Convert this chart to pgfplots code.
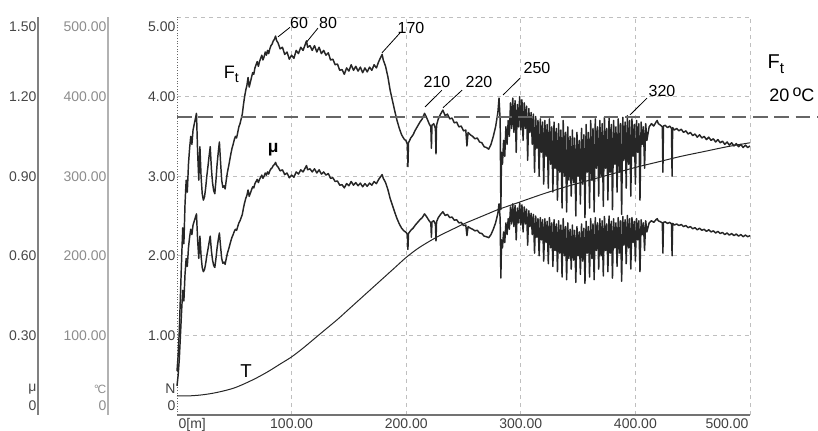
\documentclass[border=0pt]{standalone}
\usepackage{fontspec}
\setmainfont{Liberation Sans}
\usepackage{pgfplots}
\pgfplotsset{compat=1.18}
\usepackage{pgfplotstable}

\pgfplotstableread{
x Ft mu
0 0.55 0.110
1 0.75 0.150
2 1.05 0.210
3 1.50 0.300
4 1.95 0.390
5 2.35 0.470
6 2.15 0.430
7 2.65 0.530
8 2.95 0.590
9 2.80 0.560
10 3.15 0.630
11 3.35 0.670
12 3.50 0.700
13 3.40 0.680
14 3.58 0.716
15 3.65 0.730
16 3.72 0.744
17 3.79 0.758
18 3.30 0.660
19 2.95 0.590
20 3.37 0.674
21 3.00 0.600
22 2.78 0.556
23 2.70 0.540
24 2.74 0.548
25 2.85 0.570
26 3.00 0.600
27 3.12 0.624
28 3.25 0.650
29 3.37 0.674
30 3.10 0.620
31 2.92 0.584
32 2.82 0.564
33 2.78 0.556
34 2.95 0.590
35 3.15 0.630
36 3.30 0.660
37 3.43 0.686
38 3.18 0.636
39 2.95 0.590
40 2.86 0.572
41 2.88 0.576
42 2.84 0.568
43 2.95 0.590
44 3.05 0.610
45 3.12 0.624
46 3.20 0.640
47 3.28 0.656
48 3.35 0.670
49 3.40 0.680
50 3.46 0.692
51 3.50 0.700
52 3.48 0.696
53 3.55 0.710
54 3.62 0.724
55 3.66 0.732
56 3.72 0.744
57 3.78 0.756
58 3.90 0.780
59 4.00 0.800
60 4.08 0.816
61 4.14 0.828
62 4.24 0.848
63 4.12 0.824
64 4.18 0.836
65 4.24 0.848
66 4.30 0.860
67 4.28 0.856
68 4.36 0.872
69 4.40 0.880
70 4.44 0.888
71 4.38 0.876
72 4.44 0.888
73 4.48 0.896
74 4.52 0.904
75 4.46 0.892
76 4.50 0.900
77 4.56 0.912
78 4.52 0.904
79 4.58 0.916
80 4.54 0.908
81 4.60 0.920
82 4.64 0.928
83 4.66 0.932
84 4.70 0.940
85 4.72 0.944
86 4.76 0.952
87 4.70 0.940
88 4.68 0.936
89 4.64 0.928
90 4.60 0.920
92 4.62 0.924
94 4.53 0.906
96 4.56 0.912
98 4.47 0.894
100 4.52 0.904
102 4.48 0.896
104 4.58 0.916
106 4.54 0.908
108 4.62 0.924
110 4.58 0.916
112 4.66 0.932
113 4.70 0.940
114 4.62 0.924
116 4.64 0.928
118 4.58 0.916
120 4.64 0.928
122 4.56 0.912
124 4.62 0.924
126 4.54 0.908
128 4.58 0.916
130 4.52 0.904
132 4.55 0.910
134 4.46 0.892
136 4.47 0.894
138 4.40 0.880
140 4.41 0.882
142 4.33 0.866
144 4.34 0.868
146 4.28 0.856
148 4.36 0.872
150 4.32 0.864
152 4.40 0.880
154 4.33 0.866
156 4.38 0.876
158 4.32 0.864
160 4.37 0.874
162 4.30 0.860
164 4.36 0.872
166 4.31 0.862
168 4.37 0.874
170 4.33 0.866
172 4.40 0.880
174 4.36 0.872
176 4.44 0.888
178 4.50 0.900
179 4.53 0.906
180 4.46 0.892
182 4.38 0.876
184 4.25 0.850
186 4.08 0.816
188 3.95 0.790
190 3.82 0.764
192 3.70 0.740
194 3.60 0.720
196 3.52 0.704
198 3.47 0.694
200 3.44 0.688
201 3.40 0.680
201.5 3.12 0.624
202 3.42 0.684
204 3.48 0.696
206 3.52 0.704
208 3.58 0.716
210 3.63 0.726
212 3.68 0.736
214 3.72 0.744
216 3.79 0.758
218 3.73 0.746
220 3.66 0.732
221.5 3.62 0.724
222 3.35 0.670
222.5 3.64 0.728
224 3.66 0.732
225.5 3.60 0.720
226 3.28 0.656
226.5 3.64 0.728
228 3.72 0.744
230 3.78 0.756
232 3.83 0.766
234 3.76 0.752
236 3.78 0.756
238 3.72 0.744
240 3.73 0.746
242 3.67 0.734
244 3.68 0.736
246 3.62 0.724
248 3.63 0.726
250 3.57 0.714
252 3.58 0.716
253 3.38 0.676
254 3.55 0.710
256 3.52 0.704
258 3.50 0.700
260 3.47 0.694
262 3.48 0.696
264 3.43 0.686
266 3.42 0.684
268 3.37 0.674
270 3.36 0.672
272 3.34 0.668
274 3.40 0.680
276 3.50 0.700
278 3.62 0.724
280 3.80 0.760
281 3.98 0.796
282 3.70 0.740
282.6 2.58 0.516
283.2 3.30 0.660
284 3.15 0.630
285 3.45 0.690
286 3.25 0.650
287 3.62 0.724
288 3.40 0.680
289 3.70 0.740
290 3.50 0.700
291 3.92 0.784
292 3.60 0.720
293 3.98 0.796
294 3.55 0.710
295 3.95 0.790
296 3.30 0.660
297 3.90 0.780
298 3.62 0.724
299 4.00 0.800
300 3.58 0.716
301 3.96 0.792
302 3.45 0.690
303 3.92 0.784
304 3.60 0.720
305 3.88 0.776
306 3.20 0.640
307 3.85 0.770
308 3.55 0.710
309 3.80 0.760
310 3.40 0.680
311 3.78 0.756
312 3.05 0.610
313 3.75 0.750
314 3.35 0.670
315 3.70 0.740
316 3.00 0.600
317 3.72 0.744
318 3.30 0.660
319 3.68 0.736
320 2.90 0.580
321 3.70 0.740
322 3.25 0.650
323 3.65 0.730
324 2.85 0.570
325 3.72 0.744
326 3.15 0.630
327 3.62 0.724
328 2.80 0.560
329 3.68 0.736
330 3.10 0.620
331 3.60 0.720
332 2.70 0.540
333 3.66 0.732
334 3.05 0.610
335 3.58 0.716
336 2.60 0.520
337 3.70 0.740
338 3.00 0.600
339 3.55 0.710
340 2.55 0.510
341 3.62 0.724
342 2.95 0.590
343 3.50 0.700
344 2.75 0.550
345 3.58 0.716
346 2.92 0.584
347 3.48 0.696
348 2.50 0.500
349 3.55 0.710
350 3.00 0.600
351 3.45 0.690
352 2.65 0.530
353 3.60 0.720
354 2.90 0.580
355 3.52 0.704
356 2.48 0.496
357 3.65 0.730
358 3.05 0.610
359 3.55 0.710
360 2.60 0.520
361 3.70 0.740
362 2.95 0.590
363 3.60 0.720
364 2.55 0.510
365 3.72 0.744
366 3.10 0.620
367 3.62 0.724
368 2.75 0.550
369 3.70 0.740
370 3.00 0.600
371 3.66 0.732
372 2.62 0.524
373 3.74 0.748
374 3.10 0.620
375 3.60 0.720
376 2.70 0.540
377 3.75 0.750
378 3.05 0.610
379 3.65 0.730
380 2.58 0.516
381 3.70 0.740
382 3.15 0.630
383 3.62 0.724
384 2.80 0.560
385 3.72 0.744
386 3.05 0.610
387 3.66 0.732
388 2.52 0.504
389 3.74 0.748
390 3.20 0.640
391 3.68 0.736
392 2.85 0.570
393 3.76 0.752
394 3.15 0.630
395 3.70 0.740
396 2.75 0.550
397 3.72 0.744
398 3.25 0.650
399 3.65 0.730
400 2.90 0.580
401 3.70 0.740
402 3.30 0.660
403 3.66 0.732
404 2.70 0.540
405 3.68 0.736
406 3.40 0.680
407 3.62 0.724
408 3.10 0.620
409 3.66 0.732
410 3.45 0.690
412 3.62 0.724
414 3.66 0.732
416 3.63 0.726
418 3.68 0.736
419 3.70 0.740
420 3.66 0.732
422 3.64 0.728
423.5 3.62 0.724
424 3.05 0.610
424.5 3.63 0.726
426 3.64 0.728
428 3.61 0.722
430 3.63 0.726
431.5 3.60 0.720
432 3.00 0.600
432.5 3.61 0.722
434 3.58 0.716
436 3.60 0.720
438 3.57 0.714
440 3.59 0.718
442 3.55 0.710
444 3.57 0.714
446 3.53 0.706
448 3.55 0.710
450 3.51 0.702
452 3.53 0.706
454 3.49 0.698
456 3.52 0.704
458 3.48 0.696
460 3.50 0.700
462 3.46 0.692
464 3.49 0.698
466 3.45 0.690
468 3.47 0.694
470 3.43 0.686
472 3.46 0.692
474 3.42 0.684
476 3.44 0.688
478 3.40 0.680
480 3.43 0.686
482 3.39 0.678
484 3.42 0.684
486 3.38 0.676
488 3.41 0.682
490 3.37 0.674
492 3.40 0.680
494 3.36 0.672
496 3.39 0.678
498 3.36 0.672
500 3.38 0.676
}\Ftdata

\pgfplotstableread{
x T
0 24
10 24
20 25
30 27
40 30
50 34
60 40
70 47
80 55
90 64
100 73
110 84
120 96
130 108
140 120
150 133
160 146
170 159
180 172
190 185
200 198
210 209
220 218
230 226
240 233
250 240
260 246
270 252
280 258
290 263
300 268
320 278
340 287
360 295
380 303
400 311
420 318
440 325
460 331
480 337
500 342
}\Tdata

\definecolor{curve}{HTML}{262626}

\pgfplotsset{
  common/.style={scale only axis, height=298.5pt, ymin=0, xmax=500, clip=false,
    anchor=south west, major tick length=0pt, tick style={draw=none},
    ticklabel style={font=\fontsize{10.5}{12}\selectfont, inner sep=1pt}},
}

\begin{document}
\begin{tikzpicture}
\useasboundingbox (0,0) rectangle (613.5pt,323.25pt);

% main axis (N)
\begin{axis}[common, at={(132.75pt,12pt)}, width=429.75pt, xmin=0, ymax=5,
  axis x line*=bottom, axis y line*=left, axis line style={-},
  x axis line style={draw=black!55, line width=1.5pt},
  y axis line style={draw=black!60, line width=0.7pt, dash pattern=on 0.8pt off 1.2pt},
  xtick={100,200,300,400,500}, xticklabels={100.00,200.00,300.00,400.00,{}},
  ytick={1,2,3,4,5}, yticklabels={1.00,2.00,3.00,4.00,{}},
  grid=major, grid style={dash pattern=on 3pt off 3pt, draw=black!25, line width=0.6pt},
  xticklabel style={text=black!75, anchor=north, yshift=-1.5pt},
  yticklabel style={text=black!75, anchor=east}]
\addplot[line width=1.1pt, color=curve, line join=round] table[x=x,y=Ft]{\Ftdata};
\addplot[line width=1.3pt, color=black!60, dash pattern=on 11pt off 5pt] coordinates {(0,3.74) (559.5,3.74)};
% axis end labels
\node[font=\fontsize{10.5}{12}\selectfont, text=black!75, anchor=north west, inner sep=1pt, yshift=-1.5pt] at (axis cs:0,0) {0[m]};
\node[font=\fontsize{10.5}{12}\selectfont, text=black!75, anchor=north east, inner sep=1pt, yshift=-1.5pt] at (axis cs:500,0) {500.00};
\node[font=\fontsize{10.5}{12}\selectfont, text=black!75, anchor=north east, inner sep=1pt, yshift=-2.5pt] at (axis cs:0,5) {5.00};
\node[font=\fontsize{10.5}{12}\selectfont, text=black!75, anchor=east, inner sep=1pt] at (axis cs:0,0.327) {N};
\node[font=\fontsize{10.5}{12}\selectfont, text=black!75, anchor=east, inner sep=1pt] at (axis cs:0,0.113) {0};
% curve labels
\node[font=\fontsize{13.5}{14}\selectfont] at (axis cs:47.5,4.28) {F\raisebox{-0.45ex}{\fontsize{10.5}{11}\selectfont t}};
\node[font=\bfseries\fontsize{13}{14}\selectfont] at (axis cs:84,3.33) {μ};
\node[font=\fontsize{14}{15}\selectfont] at (axis cs:60.2,0.55) {T};
\node[font=\fontsize{15}{16}\selectfont] at (axis cs:522.5,4.41) {F\raisebox{-0.45ex}{\fontsize{11.5}{12}\selectfont t}};
\node[font=\fontsize{13.5}{14}\selectfont] at (axis cs:536.6,4.02) {20\,\raisebox{0.55ex}{\fontsize{12}{12}\selectfont o}C};
% temperature annotations
\begin{scope}[every node/.style={font=\fontsize{12}{13}\selectfont, inner sep=0pt}]
\draw[line width=0.6pt] (axis cs:88.1,4.75) -- (axis cs:98.6,4.87);
\node at (axis cs:106.5,4.92) {60};
\draw[line width=0.6pt] (axis cs:113.4,4.69) -- (axis cs:123.0,4.86);
\node at (axis cs:131.8,4.92) {80};
\draw[line width=0.6pt] (axis cs:178.9,4.55) -- (axis cs:194.6,4.80);
\node at (axis cs:204.2,4.86) {170};
\draw[line width=0.6pt] (axis cs:216.4,3.87) -- (axis cs:231.2,4.08);
\node at (axis cs:226.9,4.18) {210};
\draw[line width=0.6pt] (axis cs:232.1,3.86) -- (axis cs:248.7,4.08);
\node at (axis cs:263.5,4.18) {220};
\draw[line width=0.6pt] (axis cs:284.5,4.02) -- (axis cs:299.3,4.23);
\node at (axis cs:314.1,4.36) {250};
\draw[line width=0.6pt] (axis cs:395.3,3.77) -- (axis cs:410.1,3.98);
\node at (axis cs:423.2,4.07) {320};
\end{scope}
\end{axis}

% mu axis
\begin{axis}[common, at={(28.5pt,12pt)}, width=534pt, xmin=-121.29, ymax=1.5,
  axis x line=none, axis y line*=left, axis line style={-},
  y axis line style={draw=black!50, line width=1.1pt},
  ytick={0.3,0.6,0.9,1.2}, yticklabels={0.30,0.60,0.90,1.20},
  yticklabel style={text=black!72, anchor=east}]
\addplot[line width=1.1pt, color=curve, line join=round] table[x=x,y=mu]{\Ftdata};
\node[font=\fontsize{10.5}{12}\selectfont, text=black!72, anchor=north east, inner sep=1pt, yshift=-2pt] at (axis cs:-121.29,1.5) {1.50};
\node[font=\fontsize{10.5}{12}\selectfont, text=black!72, anchor=east, inner sep=1pt] at (axis cs:-121.29,0.098) {μ};
\node[font=\fontsize{10.5}{12}\selectfont, text=black!72, anchor=east, inner sep=1pt] at (axis cs:-121.29,0.034) {0};
\end{axis}

% temperature axis
\begin{axis}[common, at={(81pt,12pt)}, width=481.5pt, xmin=-60.21, ymax=500,
  axis x line=none, axis y line*=left, axis line style={-},
  y axis line style={draw=black!30, line width=1.1pt},
  ytick={100,200,300,400}, yticklabels={100.00,200.00,300.00,400.00},
  yticklabel style={text=black!45, anchor=east}]
\addplot[line width=0.75pt, color=curve, smooth] table[x=x,y=T]{\Tdata};
\node[font=\fontsize{10.5}{12}\selectfont, text=black!45, anchor=north east, inner sep=1pt, yshift=-2pt] at (axis cs:-60.21,500) {500.00};
\node[font=\fontsize{9}{10}\selectfont, text=black!45, anchor=east, inner sep=1pt] at (axis cs:-60.21,32.7) {°\kern-0.1em C};
\node[font=\fontsize{10.5}{12}\selectfont, text=black!45, anchor=east, inner sep=1pt] at (axis cs:-60.21,11.3) {0};
\end{axis}
\end{tikzpicture}
\end{document}
